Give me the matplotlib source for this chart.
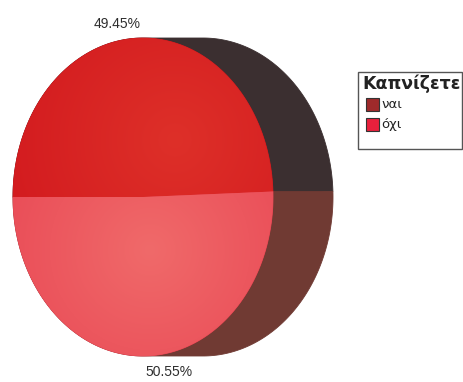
import numpy as np
import matplotlib
matplotlib.use('Agg')
import matplotlib.pyplot as plt
from matplotlib.patches import Polygon, Rectangle

# smoking survey: share of answers
legend_title = 'Καπνίζετε'
categories = ['ναι', 'όχι']
values = [49.45, 50.55]
pct_labels = ['49.45%', '50.55%']

legend_colors = ['#9e2a2b', '#e8203c']
face_center = ['#de3029', '#f06a6a']
face_edge = ['#d2191e', '#e84452']
side_colors = ['#3b2f30', '#703a33']

W, H = 464, 382
cx, cy, a, b = 143, 197, 130, 159   # front face ellipse (pixels)
depth = 60                           # horizontal extrusion


def arc_points(t1, t2, n=200, dx=0.0):
    t = np.radians(np.linspace(t1, t2, n))
    return np.column_stack([cx + dx + a * np.cos(t), cy - b * np.sin(t)])


def hull(pts):
    pts = sorted(map(tuple, pts))
    def cross(o, p, q):
        return (p[0] - o[0]) * (q[1] - o[1]) - (p[1] - o[1]) * (q[0] - o[0])
    lower, upper = [], []
    for p in pts:
        while len(lower) >= 2 and cross(lower[-2], lower[-1], p) <= 0:
            lower.pop()
        lower.append(p)
    for p in reversed(pts):
        while len(upper) >= 2 and cross(upper[-2], upper[-1], p) <= 0:
            upper.pop()
        upper.append(p)
    return np.array(lower[:-1] + upper[:-1])


def shaded(ax, poly, c0, c1, hx, hy, r):
    yy, xx = np.mgrid[0:H, 0:W] + 0.5
    d = np.clip(np.hypot(xx - hx, yy - hy) / r, 0, 1)[..., None]
    c0 = np.array(matplotlib.colors.to_rgb(c0))
    c1 = np.array(matplotlib.colors.to_rgb(c1))
    img = c0 * (1 - d) + c1 * d
    im = ax.imshow(img, extent=(0, W, H, 0), zorder=3, interpolation='bilinear')
    im.set_clip_path(poly)


fig = plt.figure(figsize=(W / 100, H / 100), dpi=100)
ax = fig.add_axes([0, 0, 1, 1])
ax.set_xlim(0, W)
ax.set_ylim(H, 0)
ax.axis('off')

# slice angles, first slice ends at 9 o'clock
fracs = np.array(values) / sum(values)
ends = 180 - np.concatenate([[0], np.cumsum(fracs)]) * 360
wedges = [(ends[i + 1], ends[i]) for i in range(len(values))]

# extruded sides
for (t1, t2), col in zip(wedges, side_colors):
    front = np.vstack([[cx, cy], arc_points(t1, t2)])
    side = hull(np.vstack([front, front + [depth, 0]]))
    ax.add_patch(Polygon(side, closed=True, fc=col, ec=col, lw=0.6, zorder=1))

# front faces with soft shading
highlights = [(175, 140, 190), (150, 250, 200)]
for i, (t1, t2) in enumerate(wedges):
    front = np.vstack([[cx, cy], arc_points(t1, t2)])
    poly = Polygon(front, closed=True, fc=face_edge[i], ec=face_edge[i], lw=0.6, zorder=2)
    ax.add_patch(poly)
    hx, hy, r = highlights[i]
    shaded(ax, poly, face_center[i], face_edge[i], hx, hy, r)

# percentage labels above and below the pie
for (t1, t2), txt in zip(wedges, pct_labels):
    mid = np.radians((t1 + t2) / 2)
    s = np.sign(np.sin(mid))
    lx = cx + a * np.cos(mid) - 24 * s
    ly = cy - (b + 15) * np.sin(mid) + 1
    ax.text(lx, ly, txt, ha='center', va='center', fontsize=10,
            family='Liberation Sans', color='#2e2e2e', zorder=5)

# legend box
ax.add_patch(Rectangle((358.5, 71.5), 104, 77, fc='white', ec='#555555', lw=1.0, zorder=4))
ax.text(362, 84, legend_title, ha='left', va='center', fontsize=12.5,
        family='DejaVu Sans', weight='bold', color='#222222', zorder=5)
for i, (lab, col) in enumerate(zip(categories, legend_colors)):
    y = 98 + i * 20
    ax.add_patch(Rectangle((366, y), 13, 13, fc=col, ec='#333333', lw=0.8, zorder=5))
    ax.text(381, y + 6.5, lab, ha='left', va='center', fontsize=9.5,
            family='DejaVu Sans', color='#222222', zorder=5)

fig.savefig('out.png', dpi=100)
